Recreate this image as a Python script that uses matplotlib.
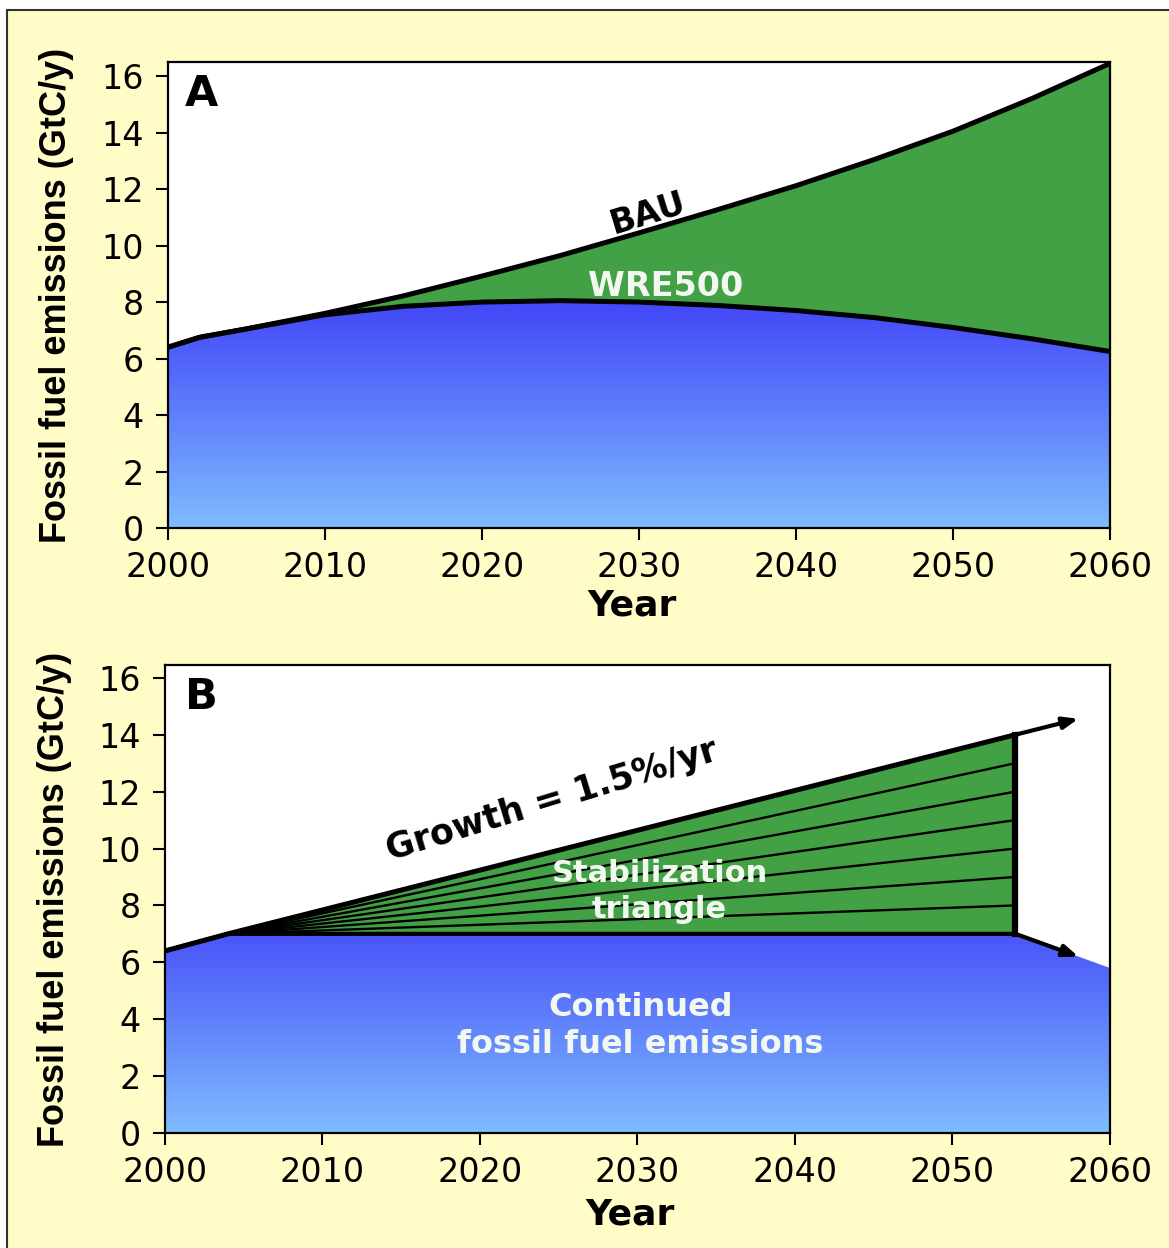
import numpy as np
import matplotlib.pyplot as plt
from matplotlib.colors import LinearSegmentedColormap
from matplotlib.patches import Rectangle, Polygon

# panel A: BAU vs WRE500 paths
years_a = [2000, 2002, 2005, 2010, 2015, 2020, 2025, 2030, 2035, 2040, 2045, 2050, 2055, 2060]
bau = [6.4, 6.75, 7.05, 7.6, 8.22, 8.92, 9.65, 10.45, 11.27, 12.12, 13.05, 14.05, 15.2, 16.45]
wre500 = [6.4, 6.75, 7.05, 7.55, 7.85, 8.0, 8.05, 8.0, 7.88, 7.7, 7.45, 7.1, 6.7, 6.25]

# panel B: stabilization triangle
years_b = [2000, 2004, 2054]
growth = [6.4, 7.0, 14.0]
flat = [6.4, 7.0, 7.0]
wedge_ends = [8, 9, 10, 11, 12, 13]
blue_b_years = [2000, 2004, 2054, 2060]
blue_b_vals = [6.4, 7.0, 7.0, 5.8]
growth_arrow_end = (2058.0, 14.56)
flat_arrow_end = (2058.0, 6.2)

xticks = [2000, 2010, 2020, 2030, 2040, 2050, 2060]
yticks = [0, 2, 4, 6, 8, 10, 12, 14, 16]

yellow = '#FFFCC8'
green = '#43A145'
textwhite = '#F2F8F0'
blue_cmap = LinearSegmentedColormap.from_list('b', ['#80BCFF', '#5E7EFB', '#4244F8'])

fig = plt.figure(figsize=(11.69, 12.48), dpi=100, facecolor='white')
fig.patches.append(Rectangle((7/1169, -0.02), 1.0, 1.02 - 10/1248, transform=fig.transFigure,
                             facecolor=yellow, edgecolor='#333333', lw=1.5, zorder=-10))


def style_axes(ax):
    ax.set_xlim(2000, 2060)
    ax.set_ylim(0, 16.5)
    ax.set_xticks(xticks)
    ax.set_yticks(yticks)
    ax.tick_params(direction='out', length=8.5, width=1.5, labelsize=24, color='black')
    ax.tick_params(axis='y', pad=9)
    ax.tick_params(axis='x', pad=8)
    for lab in ax.get_xticklabels() + ax.get_yticklabels():
        lab.set_family('DejaVu Sans')
    for s in ax.spines.values():
        s.set_linewidth(1.6)
    ax.set_facecolor('white')
    ax.set_xlabel('Year', fontsize=26, fontweight='bold', family='DejaVu Sans')
    ax.set_ylabel('Fossil fuel emissions (GtC/y)', fontsize=26, fontweight='bold',
                  family='Liberation Sans')


def gradient_fill(ax, x, y):
    poly = ax.fill_between(x, 0, y, facecolor='none', edgecolor='none')
    grad = np.linspace(0, 1, 256).reshape(-1, 1)
    im = ax.imshow(grad, extent=[2000, 2060, 0, 8.2], origin='lower', aspect='auto',
                   cmap=blue_cmap, zorder=1)
    im.set_clip_path(poly.get_paths()[0], transform=ax.transData)


# ---- panel A ----
axA = fig.add_axes([168/1169, 1 - 528/1248, 942/1169, 466/1248])
style_axes(axA)
axA.fill_between(years_a, wre500, bau, color=green, lw=0, zorder=2)
gradient_fill(axA, years_a, wre500)
axA.plot(years_a, bau, color='black', lw=3.6, zorder=4, solid_joinstyle='round')
axA.plot(years_a, wre500, color='black', lw=3.6, zorder=4, solid_joinstyle='round')
axA.text(0.018, 0.905, 'A', transform=axA.transAxes, fontsize=31, fontweight='bold',
         family='DejaVu Sans', ha='left', va='baseline')
axA.text(2030.6, 11.15, 'BAU', fontsize=24, fontweight='bold', family='DejaVu Sans',
         rotation=17, ha='center', va='center', zorder=5)
axA.text(2031.7, 8.55, 'WRE500', fontsize=24, fontweight='bold', family='DejaVu Sans',
         color=textwhite, ha='center', va='center', zorder=5)
axA.yaxis.set_label_coords(-0.1, 0.5)
axA.xaxis.set_label_coords(0.4926, -0.13)

# ---- panel B ----
axB = fig.add_axes([165/1169, 1 - 1133/1248, 945/1169, 468/1248])
style_axes(axB)
axB.set_ylim(0, 16.45)
gradient_fill(axB, blue_b_years, blue_b_vals)
tri = Polygon([(years_b[1], flat[1]), (years_b[2], growth[2]), (years_b[2], flat[2])],
              closed=True, facecolor=green, edgecolor='none', zorder=2)
axB.add_patch(tri)
for v in wedge_ends:
    axB.plot([years_b[1], years_b[2]], [flat[1], v], color='black', lw=1.7, zorder=3)
axB.plot(years_b, growth, color='black', lw=3.6, zorder=4)
axB.plot(years_b, flat, color='black', lw=3.0, zorder=4)
axB.plot([years_b[2], years_b[2]], [flat[2], growth[2]], color='black', lw=4.5, zorder=4,
         solid_capstyle='projecting')
axB.annotate('', xy=growth_arrow_end, xytext=(years_b[2], growth[2]),
             arrowprops=dict(arrowstyle='-|>,head_length=0.9,head_width=0.35', color='black',
                             lw=3.0, shrinkA=0, shrinkB=0), zorder=5)
axB.annotate('', xy=flat_arrow_end, xytext=(years_b[2], flat[2]),
             arrowprops=dict(arrowstyle='-|>,head_length=0.9,head_width=0.35', color='black',
                             lw=3.0, shrinkA=0, shrinkB=0), zorder=5)
axB.text(0.021, 0.905, 'B', transform=axB.transAxes, fontsize=31, fontweight='bold',
         family='DejaVu Sans', ha='left', va='baseline')
axB.text(2024.6, 11.7, 'Growth = 1.5%/yr', fontsize=25, fontweight='bold',
         family='DejaVu Sans', rotation=17, ha='center', va='center', zorder=5)
axB.text(2031.4, 8.5, 'Stabilization\ntriangle', fontsize=22, fontweight='bold',
         family='DejaVu Sans', color=textwhite, ha='center', va='center',
         linespacing=1.3, zorder=5)
axB.text(2030.2, 3.75, 'Continued\nfossil fuel emissions', fontsize=23, fontweight='bold',
         family='DejaVu Sans', color=textwhite, ha='center', va='center',
         linespacing=1.25, zorder=5)
axB.yaxis.set_label_coords(-0.098, 0.5)
axB.xaxis.set_label_coords(0.4926, -0.137)

fig.savefig('out.png', dpi=100, facecolor=fig.get_facecolor())
